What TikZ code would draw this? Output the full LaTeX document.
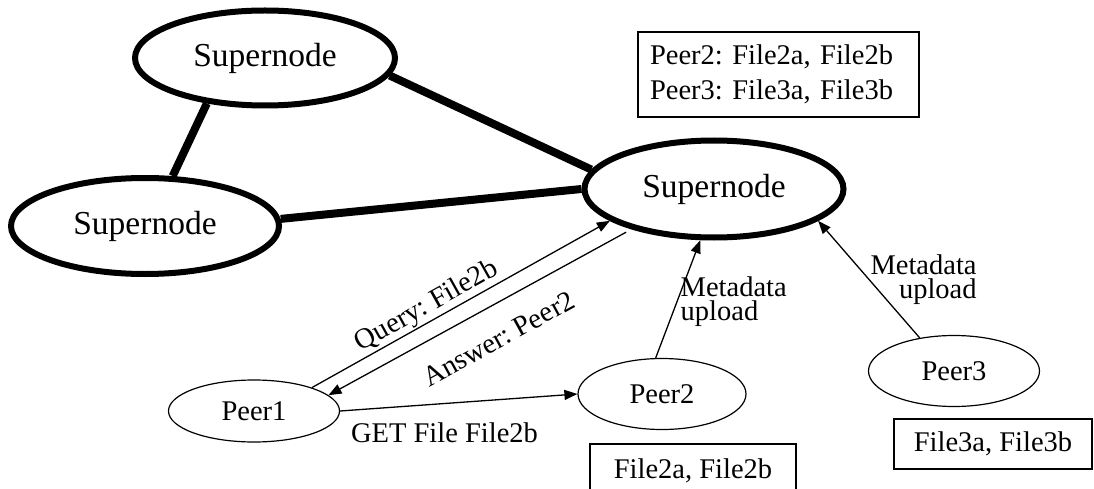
\documentclass[tikz,border=0pt]{standalone}
\usepackage{fontspec}
\setmainfont{Liberation Serif}
\usetikzlibrary{shapes.geometric,arrows.meta}
\frenchspacing

\newcommand\snfont{\fontsize{33.5}{36}\selectfont}
\newcommand\lblfont{\fontsize{28.5}{24}\selectfont}

\tikzset{
  supernode/.style={ellipse,draw,line width=6pt,font=\snfont},
  peer/.style={ellipse,draw,line width=1.2pt,font=\lblfont},
  filebox/.style={draw,line width=1.2pt,font=\lblfont},
  backbone/.style={draw,line width=8pt},
  msg/.style={draw,line width=1.3pt,-{Triangle[length=13pt,width=10pt]}},
}

\begin{document}
\begin{tikzpicture}[x=1pt,y=-1pt]

      \useasboundingbox (0,0) rectangle (1094,489);
      \clip (0,0) rectangle (1094,489);

      \begin{scope}[every node/.style={supernode}]
        \node (snT) at (265,58)  [minimum width=260pt,minimum height=95pt] {Supernode};
        \node (snL) at (145,226) [minimum width=268pt,minimum height=96pt] {Supernode};
        \node (snR) at (714,189) [minimum width=259pt,minimum height=97pt] {Supernode};
      \end{scope}

      \begin{scope}[every node/.style={peer}]
        \node (peer1) at (254,411) [minimum width=171pt,minimum height=62pt] {Peer1};
        \node (peer2) at (662,394) [minimum width=168pt,minimum height=71pt] {Peer2};
        \node (peer3) at (954,371) [minimum width=171pt,minimum height=71pt] {Peer3};
      \end{scope}

      \node (index)  at (778.5,74.5) [filebox,text width=257pt,inner xsep=12pt,minimum height=85pt,
        align=left,font=\fontsize{28.5}{35}\selectfont] {Peer2: File2a, File2b\\Peer3: File3a, File3b};
      \node (files2) at (693,471) [filebox,minimum width=206pt,minimum height=54pt] {File2a, File2b};
      \node (files3) at (993,444) [filebox,minimum width=198pt,minimum height=50pt] {File3a, File3b};

      \path (snT.218) edge[backbone] (snL.61);
      \path (snT.352) edge[backbone] (snR.171);
      \path (snL.3)   edge[backbone] (snR.west);

      \begin{scope}[every node/.style={font=\lblfont,inner sep=1pt}]
        \path (peer1.22)   edge[msg] node[sloped,pos=0.41,above] {Query: File2b} (snR.197);
        \path (snR.206)    edge[msg,shorten <=6pt] node[sloped,pos=0.49,below=21pt] {Answer: Peer2} (peer1.12);
        \path (peer1.east) edge[msg] node[pos=0.44,below=18pt] {GET File File2b} (peer2.west);
        \path (peer2.100)  edge[msg] node[pos=0.48,right=2pt,align=left] {Metadata\\upload} (snR.255);
        \path (peer3.136)  edge[msg] node[pos=0.5,right,align=right] {Metadata\\upload} (snR.343);
      \end{scope}

    \end{tikzpicture}
\end{document}
